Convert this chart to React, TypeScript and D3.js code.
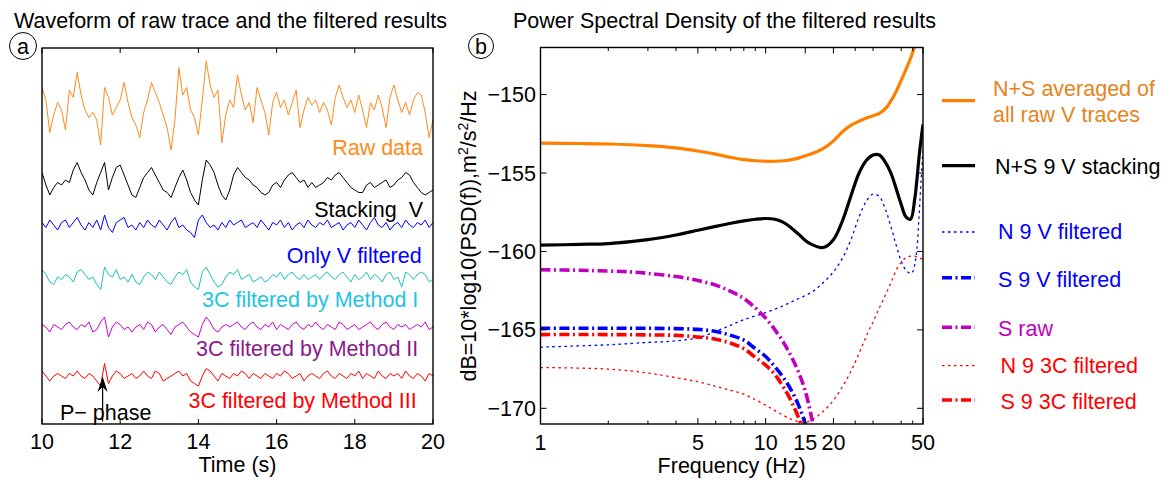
import React from 'react';
import * as d3 from 'd3';

// ---------- Panel (a): waveforms, sampled every 0.1 s from 10 s to 20 s ----------
const traceStart = 10;
const traceStep = 0.1;
const timeTicks = [10, 12, 14, 16, 18, 20];

const rawData = [7, 2, -11, -4, 1, -2, -10, 6, 3, 13, 4, -2, -5, -3, -6, -16, 7, 3, -4, -1, 2, 9, 1, -5, -8, -13, -3, 2, 9, 5, 1, -4, -9, -18, -6, 15, 4, 7, -2, -5, -12, 2, 17.6, 8, 3, 6, -15, -4, 2, -1, 12, 4, -2, 1, -7, 7, 2, -3, -12, 1, 5, -1, 2, -4, 1, 6, -9, -2, 3, 0, 2, -3, 1, -2, -8, 3, 8, 3, -1, 2, -3, 4, -2, -9, 1, -2, 4, -1, -9, 3, 8, 2, -3, 1, -4, 2, 5, 4, -3, -13, -6];
const stackingV = [5, 0, -4, -1, 1, 0, 2, 1, 6, 9, 5, 2, -2, -4, 1, 5, 9, -2, 3, 7, 8, 4, 0, -4, -5, -1, 3, 5, 7, 4, 1, -2, -3, -5, -1, 3, 6, 2, -3, -6, -8, 2, 10, 8, 5, 0, -4, -6, -2, 4, 7, 5, 3, 2, 0, -1, -3, -4, -3, 0, 1, -1, 2, 4, 5, 3, 1, 2, -1, 1, -1, 0, 1, 3, 2, 4, 5, 3, 1, -1, -2, -3, -3, 0, 1, -1, 0, 1, 2, -1, 0, 2, 3, 5, 4, 1, -1, -3, -4, -3, -2];
const onlyV = [1, -1, 2, 0, -2, 1, 2, -1, 1, 3, 0, -2, 1, -1, 2, -2, 4, -1, -3, 1, 2, 3, -1, 0, -2, 1, -1, 2, 0, -1, 2, 0, -2, 1, 3, -1, 0, -2, -3, -5, 2, 4, 1, -1, 0, -2, 1, -1, 2, 0, 1, 2, -1, 0, 1, -1, 2, 0, -2, 1, 0, 2, -1, 1, -2, 0, 1, -1, 2, 0, -1, 1, 0, 2, -1, 0, 1, -2, 0, 1, -1, 2, 0, -2, 1, 3, 0, -1, 1, -2, 0, 1, -1, 2, 0, -1, 1, 0, 2, -1, 1];
const methodI = [3, 1, -2, -3, 0, -1, 1, 0, -2, 2, 3, 1, -1, 0, -3, -5, 4, 1, 0, 3, -1, 0, -2, 1, -2, -3, 0, 2, 1, -1, 2, 0, -2, -3, 0, 2, 1, 3, -2, -4, -5, 2, 4, 1, -2, -4, -3, 0, 2, 1, 3, -1, 0, 1, -2, -1, 0, -2, -1, 1, 0, 2, -1, 1, 2, 0, -1, 1, -1, 0, 1, -1, 1, 2, 0, -1, 1, 2, 0, -2, 1, -1, 0, 2, -1, 1, 0, -2, 1, 2, -1, 0, -4, 2, 1, -1, 1, 2, 1, -2, -1];
const methodII = [1, 0, -2, 1, 0, -1, 1, 2, 0, -1, 1, 0, 2, -2, -1, 2, 4, -4, 0, 2, 1, -1, 0, -2, 0, 1, -1, 2, 1, -2, 0, 1, -1, -3, 0, 1, 2, 0, -2, -3, -4, 1, 4, 2, -1, -2, 0, 1, 0, 1, 2, 0, -1, 1, 2, 0, -1, 1, 0, 2, -1, 1, 0, -1, 1, 2, 0, -1, 1, 0, 2, 0, -1, 1, 0, -1, 2, 1, -1, 0, 1, -1, 0, 1, 2, 0, -1, 1, 2, 0, -1, 1, 0, 1, -1, 0, 1, 0, 2, -1, 0];
const methodIII = [2, 0, -2, 0, 1, 0, -1, 1, 0, 2, 0, -1, 1, 0, -2, -4, 5, -3, 0, 2, 1, -1, 0, 1, -1, 0, 2, 0, -1, 2, 1, -2, -1, 0, 1, 2, 0, 1, -2, -3, -4, 0, 3, 2, 0, -2, 1, 0, -1, 1, 0, 2, 1, -1, 1, 0, -1, 1, 0, -1, 1, 0, 2, 1, -1, 0, 1, -2, 0, 1, 0, -1, 1, 2, 0, -1, 1, 0, -1, 1, 0, 2, -1, 1, 0, -1, 2, 0, -1, 1, 0, 1, -1, 2, 0, -1, 1, 0, -2, 1, 0];

const traceNames = ['Raw data', 'Stacking  V', 'Only V filtered', '3C filtered by Method I', '3C filtered by Method II', '3C filtered by Method III'];
const traceValues = [rawData, stackingV, onlyV, methodI, methodII, methodIII];
const traceOffsets = [0, -32, -48, -68.8, -88.8, -108.4];
const traceColors = ['#ff8a1c', '#000000', '#0000ff', '#1cbfbf', '#cc00cc', '#ff0000'];
const traceLabelColors = ['#ff8c1a', '#000000', '#0000ff', '#22c4e4', '#8b1a8b', '#ff0000'];
const traceLabelY = [155, 216.7, 262.7, 306.7, 356, 408.3];
const traceLabelX = [423, 423, 421.7, 418.3, 418.3, 416.7];
const pPhaseTime = 11.55;

// ---------- Panel (b): PSD curves ----------
const freqTicks = [1, 5, 10, 15, 20, 50];
const freqMinor = [2, 3, 4, 6, 7, 8, 9, 25, 30, 40, 45];
const dbTicks = [-170, -165, -160, -155, -150];

const fAvg = [1, 1.5, 2, 3, 4, 5, 6, 7, 8, 9, 10, 11, 12, 13, 14, 15, 16, 18, 20, 22, 24, 26, 28, 30, 32, 34, 36, 38, 40, 42, 44, 46, 48, 50];
const dbAvg = [-153.1, -153.12, -153.15, -153.25, -153.4, -153.6, -153.8, -154.0, -154.15, -154.22, -154.25, -154.25, -154.22, -154.15, -154.05, -153.9, -153.78, -153.45, -152.95, -152.35, -151.95, -151.7, -151.5, -151.35, -151.2, -150.9, -150.4, -149.8, -149.1, -148.4, -147.7, -146.9, -146.0, -145.0];

const fStack = [1, 1.5, 2, 3, 4, 5, 6, 7, 8, 9, 10, 11, 12, 13, 14, 15, 16, 18, 20, 22, 24, 26, 28, 30, 32, 34, 36, 38, 40, 42, 44, 46, 47, 48, 49, 50];
const dbStack = [-159.6, -159.55, -159.5, -159.25, -158.95, -158.65, -158.4, -158.2, -158.05, -157.95, -157.9, -157.95, -158.15, -158.5, -158.9, -159.3, -159.55, -159.75, -159.25, -158.0, -156.4, -155.0, -154.2, -153.85, -153.85, -154.3, -155.0, -156.0, -157.0, -157.8, -157.95, -156.6, -155.4, -154.0, -152.9, -151.9];

const fN9V = [1, 2, 3, 4, 5, 6, 7, 8, 10, 12, 14, 16, 18, 20, 22, 24, 26, 28, 30, 32, 34, 36, 38, 40, 42, 44, 45, 46, 47, 48, 49, 50];
const dbN9V = [-166.1, -165.95, -165.8, -165.7, -165.5, -165.1, -164.7, -164.35, -163.9, -163.45, -163.0, -162.6, -162.0, -161.3, -160.4, -159.2, -157.8, -156.8, -156.35, -156.5, -157.3, -158.4, -159.6, -160.6, -161.2, -161.4, -161.3, -160.8, -159.8, -157.8, -155.5, -153.5];

const fS9V = [1, 2, 3, 4, 5, 6, 7, 8, 9, 10, 11, 12, 13, 14, 15, 16];
const dbS9V = [-164.9, -164.9, -164.9, -164.92, -164.97, -165.1, -165.35, -165.65, -166.2, -166.7, -167.35, -168.05, -168.85, -169.8, -171.0, -172.5];

const fSraw = [1, 1.5, 2, 2.5, 3, 4, 5, 6, 7, 8, 9, 10, 11, 12, 13, 14, 15, 16, 17];
const dbSraw = [-161.17, -161.2, -161.25, -161.3, -161.4, -161.6, -161.85, -162.15, -162.55, -163.0, -163.6, -164.25, -165.0, -165.8, -166.7, -167.7, -168.9, -170.6, -172.5];

const fN93C = [1, 2, 3, 4, 5, 6, 7, 8, 9, 10, 11, 12, 13, 14, 15, 16, 18, 20, 22, 24, 26, 28, 30, 32, 34, 36, 38, 40, 42, 44, 46, 48, 50];
const dbN93C = [-167.4, -167.5, -167.75, -168.05, -168.3, -168.6, -168.85, -169.1, -169.45, -169.8, -170.15, -170.45, -170.7, -170.85, -170.9, -170.75, -170.2, -169.5, -168.6, -167.6, -166.5, -165.4, -164.5, -163.6, -162.8, -162.0, -161.2, -160.7, -160.4, -160.3, -160.3, -160.4, -160.5];

const fS93C = [1, 2, 3, 4, 5, 6, 7, 8, 9, 10, 11, 12, 13, 14, 15];
const dbS93C = [-165.3, -165.3, -165.32, -165.35, -165.45, -165.6, -165.85, -166.2, -166.75, -167.25, -167.85, -168.65, -169.55, -170.6, -171.8];

const psdNames = [['N+S averaged of', 'all raw V traces'], ['N+S 9 V stacking'], ['N 9 V filtered'], ['S 9 V filtered'], ['S raw'], ['N 9 3C filtered'], ['S 9 3C filtered']];
const psdFreqs = [fAvg, fStack, fN9V, fS9V, fSraw, fN93C, fS93C];
const psdValues = [dbAvg, dbStack, dbN9V, dbS9V, dbSraw, dbN93C, dbS93C];
const psdColors = ['#ff8000', '#000000', '#0000ff', '#0000ff', '#c000c0', '#ff0000', '#ff0000'];
const psdTextColors = ['#e5841c', '#000000', '#0000ff', '#0000ff', '#c000c0', '#ff0000', '#ff0000'];
const psdStyles = ['solid', 'solid', 'dot', 'dashdot', 'dashdot', 'dot', 'dashdot'];
const legendLineY = [100.7, 165.7, 232, 277.7, 327.3, 365.7, 400];
const legendTextY = [[96, 121.7], [174.3], [239.3], [286.7], [335.7], [373.3], [409.3]];
const legendTextX = [993, 995, 998, 998, 998, 1000.5, 1000.5];

const FONT = "'Liberation Sans', Arial, Helvetica, sans-serif";

function styleProps(s: string) {
  if (s === 'solid') return { strokeWidth: 3.2 };
  if (s === 'dot') return { strokeWidth: 1.3, strokeDasharray: '2.5,3.5' };
  return { strokeWidth: 3.6, strokeDasharray: '10,3.5,2,3.5' };
}

export default function App() {
  const W = 1174, H = 483;
  // panel a
  const xL = d3.scaleLinear().domain([10, 20]).range([42, 433]);
  const yL = d3.scaleLinear().domain([-127.6, 22.8]).range([424, 48]);
  // panel b
  const xR = d3.scaleLog().domain([1, 50]).range([540.5, 923]);
  const yR = d3.scaleLinear().domain([-171, -147]).range([424, 47.5]);

  const traceLine = (vals: number[], off: number) =>
    d3.line<number>()
      .x((_, i) => xL(traceStart + i * traceStep))
      .y((v) => yL(v + off))(vals) || '';

  const psdLine = (fs: number[], vs: number[]) =>
    d3.line<number>()
      .x((_, i) => xR(fs[i]))
      .y((v) => yR(v))
      .curve(d3.curveCatmullRom.alpha(0.5))(vs) || '';

  const tick = 5;
  const fs = 21.5;

  return (
    <svg width={W} height={H} style={{ position: 'absolute', left: 0, top: 0, background: '#fff' }} fontFamily={FONT}>
      <rect x={0} y={0} width={W} height={H} fill="#fff" />
      <defs>
        <clipPath id="clipA"><rect x={42} y={48} width={391} height={376} /></clipPath>
        <clipPath id="clipB"><rect x={540.5} y={47.5} width={382.5} height={376.5} /></clipPath>
      </defs>

      {/* ---------------- Panel a ---------------- */}
      <text x={14} y={28.3} fontSize={fs} fill="#000">Waveform of raw trace and the filtered results</text>
      <ellipse cx={23} cy={46} rx={13.5} ry={13.5} fill="none" stroke="#000" strokeWidth={1} />
      <text x={23} y={53.5} fontSize={fs} textAnchor="middle" fill="#000">a</text>

      <g clipPath="url(#clipA)">
        {traceValues.map((vals, k) => (
          <path key={k} d={traceLine(vals, traceOffsets[k])} fill="none" stroke={traceColors[k]} strokeWidth={1} strokeLinejoin="round" />
        ))}
      </g>
      {traceNames.map((n, k) => (
        <text key={n} x={traceLabelX[k]} y={traceLabelY[k]} fontSize={fs} textAnchor="end" fill={traceLabelColors[k]} style={{ whiteSpace: 'pre' }}>{n}</text>
      ))}
      {/* P phase arrow */}
      <line x1={xL(pPhaseTime)} x2={xL(pPhaseTime)} y1={421.5} y2={382} stroke="#000" strokeWidth={1.2} />
      <path d={`M${xL(pPhaseTime)},${376.5} L${xL(pPhaseTime) - 5},${392} L${xL(pPhaseTime)},${387} L${xL(pPhaseTime) + 5},${392} Z`} fill="#000" />
      <text x={60} y={420} fontSize={fs} fill="#000">P− phase</text>

      <rect x={42} y={48} width={391} height={376} fill="none" stroke="#000" strokeWidth={1.4} />
      {timeTicks.map((t) => (
        <g key={t}>
          <line x1={xL(t)} x2={xL(t)} y1={424} y2={424 - tick} stroke="#000" />
          <line x1={xL(t)} x2={xL(t)} y1={48} y2={48 + tick} stroke="#000" />
          <text x={xL(t)} y={449.3} fontSize={fs} textAnchor="middle" fill="#000">{t}</text>
        </g>
      ))}
      <text x={237.5} y={471.7} fontSize={fs} textAnchor="middle" fill="#000">Time (s)</text>

      {/* ---------------- Panel b ---------------- */}
      <text x={513} y={28.3} fontSize={fs} fill="#000">Power Spectral Density of the filtered results</text>
      <ellipse cx={481} cy={46} rx={12.5} ry={12.5} fill="none" stroke="#000" strokeWidth={1} />
      <text x={481} y={53.5} fontSize={fs} textAnchor="middle" fill="#000">b</text>

      <g clipPath="url(#clipB)">
        {psdValues.map((vals, k) => (
          <path key={k} d={psdLine(psdFreqs[k], vals)} fill="none" stroke={psdColors[k]} {...styleProps(psdStyles[k])} />
        ))}
      </g>

      <rect x={540.5} y={47.5} width={382.5} height={376.5} fill="none" stroke="#000" strokeWidth={1.4} />
      {freqTicks.map((f) => (
        <g key={f}>
          <line x1={xR(f)} x2={xR(f)} y1={424} y2={424 - 6} stroke="#000" />
          <line x1={xR(f)} x2={xR(f)} y1={47.5} y2={47.5 + 6} stroke="#000" />
          <text x={xR(f)} y={450} fontSize={fs} textAnchor="middle" fill="#000">{f}</text>
        </g>
      ))}
      {freqMinor.map((f) => (
        <g key={'m' + f}>
          <line x1={xR(f)} x2={xR(f)} y1={424} y2={424 - 3.5} stroke="#000" />
          <line x1={xR(f)} x2={xR(f)} y1={47.5} y2={47.5 + 3.5} stroke="#000" />
        </g>
      ))}
      {dbTicks.map((v) => (
        <g key={v}>
          <line x1={540.5} x2={540.5 + 6} y1={yR(v)} y2={yR(v)} stroke="#000" />
          <line x1={923} x2={923 - 6} y1={yR(v)} y2={yR(v)} stroke="#000" />
          <text x={536} y={yR(v) + 7.5} fontSize={fs} textAnchor="end" fill="#000">{'−' + Math.abs(v)}</text>
        </g>
      ))}
      <text x={731.7} y={473.3} fontSize={fs} textAnchor="middle" fill="#000">Frequency (Hz)</text>
      <text transform="translate(476,236) rotate(-90)" fontSize={fs} textAnchor="middle" fill="#000">
        dB=10*log10(PSD(f)),m<tspan fontSize={14} dy={-8}>2</tspan><tspan dy={8}>/s</tspan><tspan fontSize={14} dy={-8}>2</tspan><tspan dy={8}>/Hz</tspan>
      </text>

      {/* legend */}
      {psdNames.map((lines, k) => (
        <g key={k}>
          <line x1={942} x2={975} y1={legendLineY[k]} y2={legendLineY[k]} stroke={psdColors[k]} {...styleProps(psdStyles[k])} />
          {lines.map((ln, j) => (
            <text key={j} x={legendTextX[k]} y={legendTextY[k][j]} fontSize={fs} fill={psdTextColors[k]}>{ln}</text>
          ))}
        </g>
      ))}
    </svg>
  );
}
